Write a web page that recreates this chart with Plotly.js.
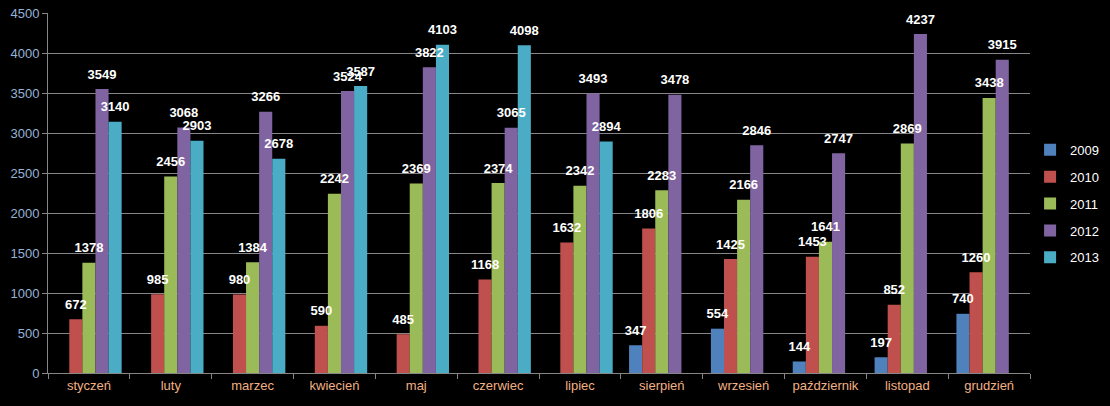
<!DOCTYPE html>
<html><head><meta charset="utf-8">
<script src="https://cdn.plot.ly/plotly-3.0.1.min.js"></script>
<style>html,body{margin:0;padding:0;background:#000;}#chart{width:1110px;height:406px;}</style>
</head><body><div id="chart"></div>
<script>
const months = ["styczeń","luty","marzec","kwiecień","maj","czerwiec","lipiec","sierpień","wrzesień","październik","listopad","grudzień"];
const years = ["2009","2010","2011","2012","2013"];
const v2009 = [null,null,null,null,null,null,null,347,554,144,197,740];
const v2010 = [672,985,980,590,485,1168,1632,1806,1425,1453,852,1260];
const v2011 = [1378,2456,1384,2242,2369,2374,2342,2283,2166,1641,2869,3438];
const v2012 = [3549,3068,3266,3524,3822,3065,3493,3478,2846,2747,4237,3915];
const v2013 = [3140,2903,2678,3587,4103,4098,2894,null,null,null,null,null];
const yTicks = [0,500,1000,1500,2000,2500,3000,3500,4000,4500];
const colors = ["#4f81bd","#c0504d","#9bbb59","#8064a2","#4bacc6"];
const series = [v2009,v2010,v2011,v2012,v2013];

const bars = series.map((vals,i)=>({
  type:'bar', name:years[i], x:months, y:vals,
  marker:{color:colors[i]},
  offsetgroup:'g'+i, legendgroup:'g'+i,
  hoverinfo:'none'
}));
const labels = series.map((vals,i)=>({
  type:'scatter', mode:'markers+text', x:months, y:vals,
  marker:{size:10, opacity:0, color:'#000'},
  offsetgroup:'g'+i, legendgroup:'g'+i, showlegend:false,
  text: vals.map(v=> v==null ? '' : String(v)),
  textposition:'top center', cliponaxis:false,
  textfont:{family:'Liberation Sans, Arial, sans-serif', size:13, color:'#ffffff', weight:'bold'},
  hoverinfo:'none'
}));

const layout = {
  width:1110, height:406,
  paper_bgcolor:'#000', plot_bgcolor:'#000',
  margin:{l:48, r:77, t:13, b:33},
  barmode:'group', bargap:0.2, bargroupgap:0,
  scattermode:'group', scattergap:0.2,
  font:{family:'Liberation Sans, Arial, sans-serif', size:13, color:'#ffffff'},
  xaxis:{
    tickfont:{size:13, color:'#f4b183'},
    showline:true, linecolor:'#868686', linewidth:1,
    ticks:'outside', tickson:'boundaries', ticklen:5, tickcolor:'#868686',
    showgrid:false
  },
  yaxis:{
    range:[0,4500], tickvals:yTicks, ticktext:yTicks.map(String),
    tickfont:{size:13, color:'#95b3d7'},
    showgrid:true, gridcolor:'#868686', gridwidth:1,
    showline:true, linecolor:'#868686', linewidth:1,
    ticks:'outside', ticklen:5, tickcolor:'#868686',
    zeroline:false
  },
  legend:{xref:'container', x:0.928, y:0.47, yanchor:'middle', xanchor:'left',
    font:{size:13, color:'#ffffff'}, bgcolor:'rgba(0,0,0,0)',
    itemwidth:30, tracegroupgap:7},
  showlegend:true
};
Plotly.newPlot('chart', bars.concat(labels), layout, {displayModeBar:false, staticPlot:true});
</script></body></html>
